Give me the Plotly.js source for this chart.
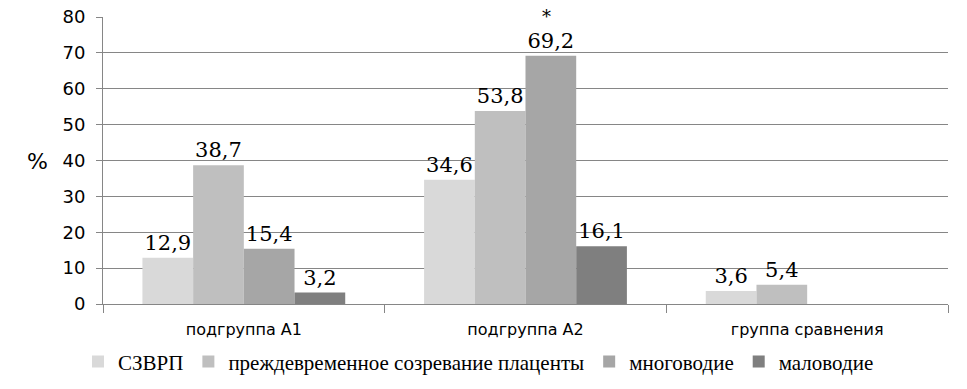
<!DOCTYPE html>
<html>
<head>
<meta charset="utf-8">
<script src="https://cdn.plot.ly/plotly-3.0.1.min.js"></script>
<style>html,body{margin:0;padding:0;background:#fff;}#chart{width:967px;height:389px;}</style>
</head>
<body>
<div id="chart"></div>
<script>
const categories = ['подгруппа А1', 'подгруппа А2', 'группа сравнения'];
const seriesNames = ['СЗВРП', 'преждевременное созревание плаценты', 'многоводие', 'маловодие'];
const szvrp = [12.9, 34.6, 3.6];
const prezhdevr = [38.7, 53.8, 5.4];
const mnogovodie = [15.4, 69.2, null];
const malovodie = [3.2, 16.1, null];
const seriesColors = ['#d9d9d9', '#bfbfbf', '#a6a6a6', '#7f7f7f'];
const yTicks = [0, 10, 20, 30, 40, 50, 60, 70, 80];

const allSeries = [szvrp, prezhdevr, mnogovodie, malovodie];
const fmt = v => (v === null ? '' : v.toFixed(1).replace('.', ','));

const traces = allSeries.map((vals, i) => ({
  type: 'bar',
  name: seriesNames[i],
  x: categories,
  y: vals,
  text: vals.map(fmt),
  textposition: 'outside',
  cliponaxis: false,
  textfont: {family: 'DejaVu Serif, serif', size: 21, color: '#000'},
  marker: {color: seriesColors[i], line: {width: 0}},
  hoverinfo: 'none'
}));

const layout = {
  width: 967, height: 389,
  margin: {l: 103, r: 19, t: 17, b: 85, autoexpand: false},
  paper_bgcolor: '#fff', plot_bgcolor: '#fff',
  barmode: 'group', bargap: 0.28, bargroupgap: 0,
  showlegend: true,
  legend: {
    orientation: 'h', x: -0.0296, xanchor: 'left', y: -0.202, yanchor: 'middle',
    font: {family: 'Liberation Serif, Times New Roman, serif', size: 21, color: '#000'},
    itemwidth: 30, tracegroupgap: 0
  },
  xaxis: {
    type: 'category', automargin: false,
    showline: true, linecolor: '#868686', linewidth: 1,
    ticks: 'outside', tickson: 'boundaries', ticklen: 8, tickcolor: '#868686',
    ticklabelstandoff: 11,
    tickfont: {family: 'DejaVu Sans, sans-serif', size: 16, color: '#000'},
    showgrid: false, zeroline: false
  },
  yaxis: {
    range: [0, 80], tickvals: yTicks, ticktext: yTicks.map(String), automargin: false,
    showline: true, linecolor: '#868686', linewidth: 1,
    ticks: 'outside', ticklen: 6, tickcolor: '#868686',
    ticklabelstandoff: 7,
    showgrid: true, gridcolor: '#868686', gridwidth: 1,
    zeroline: false,
    tickfont: {family: 'DejaVu Sans, sans-serif', size: 18, color: '#000'}
  },
  annotations: [
    {text: '%', xref: 'paper', yref: 'paper', x: -0.078, y: 0.495, xanchor: 'center', yanchor: 'middle',
     showarrow: false, font: {family: 'DejaVu Sans, sans-serif', size: 22, color: '#000'}},
    {text: '*', xref: 'x', yref: 'y', x: categories[1], y: mnogovodie[1], xshift: 21, yshift: 27,
     yanchor: 'bottom', showarrow: false,
     font: {family: 'DejaVu Serif, serif', size: 18, color: '#000'}}
  ]
};

Plotly.newPlot('chart', traces, layout, {displayModeBar: false, staticPlot: true});
</script>
</body>
</html>
